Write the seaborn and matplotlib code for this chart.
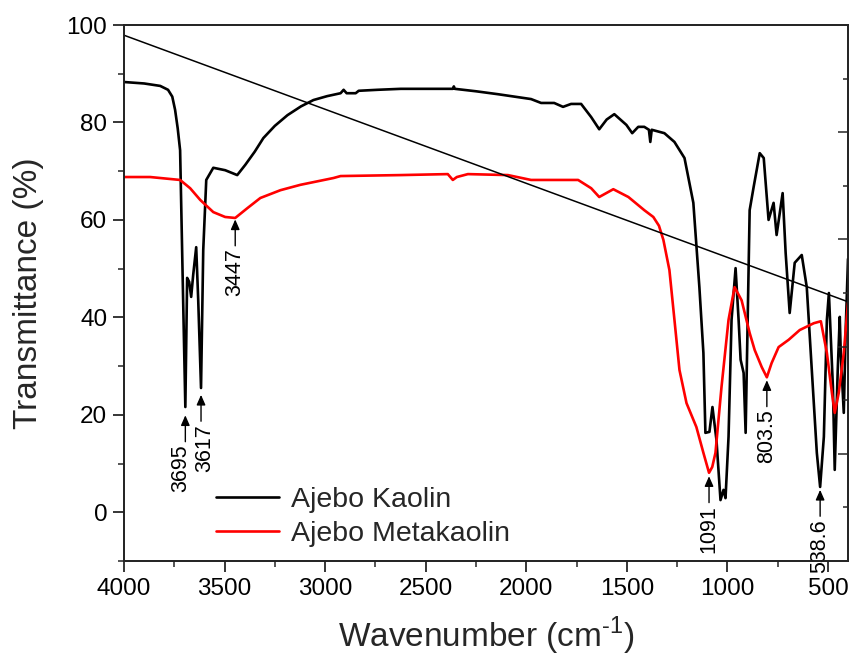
import numpy as np
import pandas as pd
import matplotlib
matplotlib.use("Agg")
import matplotlib.pyplot as plt
from matplotlib.ticker import MultipleLocator
import seaborn as sns

# ---------------- data ----------------
kaolin_wn = [4000, 3900, 3820, 3781, 3760, 3746, 3733, 3721, 3706, 3695, 3686, 3676, 3666,
             3656, 3641, 3631, 3617, 3606, 3591, 3556, 3497, 3437, 3397, 3350, 3307, 3250,
             3187, 3120, 3058, 2990, 2923, 2908, 2893, 2848, 2833, 2740, 2624, 2365, 2360,
             2355, 2250, 2141, 1976, 1926, 1861, 1817, 1777, 1727, 1677, 1637, 1600, 1562,
             1502, 1473, 1443, 1413, 1390, 1383, 1376, 1313, 1263, 1213, 1169, 1139, 1119,
             1109, 1089, 1074, 1054, 1034, 1019, 1009, 994, 979, 959, 944, 934, 919, 909,
             889, 869, 839, 819, 795, 770, 755, 725, 710, 690, 665, 630, 605, 580, 555,
             538.6, 520, 505, 495, 475, 466, 451, 441, 436, 421, 411, 400]
kaolin_T = [88.3, 88.0, 87.5, 86.7, 85.3, 82.6, 78.8, 74.3, 43.6, 21.6, 48.1, 47.3, 44.2,
            48.7, 54.4, 43.6, 25.5, 53.8, 68.2, 70.7, 70.2, 69.2, 71.3, 74.0, 76.8, 79.3,
            81.5, 83.3, 84.6, 85.4, 86.0, 86.7, 86.0, 86.0, 86.5, 86.7, 86.9, 86.9, 87.4,
            86.9, 86.4, 85.8, 84.8, 84.0, 84.0, 83.2, 83.8, 83.8, 81.1, 78.6, 80.6, 81.7,
            79.5, 77.8, 79.1, 79.1, 78.5, 76.0, 78.5, 77.8, 76.0, 72.7, 63.5, 46.2, 32.7,
            16.3, 16.5, 21.6, 14.8, 2.5, 4.6, 2.9, 15.5, 39.5, 50.1, 39.5, 31.3, 28.6, 16.3,
            62.0, 66.8, 73.7, 72.7, 60.0, 63.5, 56.9, 65.5, 53.2, 40.9, 51.2, 52.8, 46.2,
            29.2, 12.2, 5.2, 15.5, 39.5, 45.0, 25.7, 8.7, 29.2, 40.1, 32.7, 20.4, 38.0,
            52.0]

meta_wn = [4000, 3870, 3721, 3671, 3621, 3556, 3497, 3447, 3387, 3322, 3222, 3123, 2958,
           2923, 2624, 2390, 2365, 2345, 2290, 2091, 1976, 1742, 1677, 1637, 1567, 1492,
           1413, 1368, 1340, 1318, 1288, 1263, 1238, 1203, 1154, 1119, 1091, 1075, 1059,
           1029, 994, 964, 929, 889, 864, 829, 803.5, 780, 745, 695, 640, 570, 535, 505,
           480, 466, 446, 421, 400]
meta_T = [68.8, 68.8, 68.2, 66.5, 64.1, 61.6, 60.6, 60.4, 62.4, 64.5, 66.1, 67.2, 68.6,
          69.0, 69.2, 69.4, 68.2, 68.8, 69.4, 69.2, 68.2, 68.2, 66.5, 64.7, 66.3, 64.7,
          62.0, 60.6, 58.8, 55.9, 49.7, 39.5, 29.2, 22.4, 17.5, 12.2, 8.1, 9.3, 12.2,
          25.7, 39.5, 46.2, 43.5, 36.8, 33.3, 29.8, 27.7, 30.6, 33.9, 35.4, 37.4, 38.8,
          39.2, 32.7, 24.5, 20.4, 24.5, 32.7, 43.0]

baseline_wn = [4000, 400]
baseline_T = [97.9, 43.2]

ann_labels = ["3695", "3617", "3447", "1091", "803.5", "538.6"]
ann_wn = [3695, 3617, 3447, 1091, 803.5, 538.6]
ann_T = [19.9, 24.1, 60.1, 7.4, 27.1, 4.6]

series_names = ["Ajebo Kaolin", "Ajebo Metakaolin"]
series_colors = ["#000000", "#ff0000"]

# ---------------- styling ----------------
sns.set_theme(style="ticks")
plt.rcParams["font.family"] = ["Liberation Sans", "DejaVu Sans"]
plt.rcParams["mathtext.fontset"] = "custom"
plt.rcParams["mathtext.rm"] = "Liberation Sans"

fig = plt.figure(figsize=(8.51, 6.57), dpi=100)
ax = fig.add_axes([124 / 851, 1 - 561 / 657, 724 / 851, 536 / 657])

df = pd.concat([
    pd.DataFrame({"wn": kaolin_wn, "T": kaolin_T, "s": series_names[0]}),
    pd.DataFrame({"wn": meta_wn, "T": meta_T, "s": series_names[1]}),
])
sns.lineplot(data=df, x="wn", y="T", hue="s", palette=series_colors,
             estimator=None, sort=True, linewidth=1.9, ax=ax, legend=True)
sns.lineplot(x=baseline_wn, y=baseline_T, color="black", linewidth=1.1,
             estimator=None, ax=ax, legend=False)
for ln in ax.get_lines():
    ln.set_solid_joinstyle("round")

ax.set_xlim(4000, 400)
ax.set_ylim(-10, 100)
ax.xaxis.set_major_locator(MultipleLocator(500))
ax.xaxis.set_minor_locator(MultipleLocator(250))
ax.yaxis.set_major_locator(MultipleLocator(20))
ax.yaxis.set_minor_locator(MultipleLocator(10))
ax.tick_params(axis="both", which="major", direction="out", length=8, width=1.1,
               labelsize=17.5, colors="black", pad=4)
ax.tick_params(axis="both", which="minor", direction="out", length=4, width=1.1)
for sp in ax.spines.values():
    sp.set_linewidth(1.2)
    sp.set_color("black")
    sp.set_visible(True)

ax.set_xlabel(r"Wavenumber (cm$^{\text{-1}}$)", fontsize=24, labelpad=11)
ax.set_ylabel("Transmittance (%)", fontsize=24, labelpad=16)

# right axis ticks (inward, no labels)
ax2 = ax.twinx()
ax2.set_ylim(0, 100)
ax2.yaxis.set_major_locator(MultipleLocator(20))
ax2.yaxis.set_minor_locator(MultipleLocator(10))
ax2.tick_params(axis="y", which="major", direction="in", length=7, width=1.1, labelright=False)
ax2.tick_params(axis="y", which="minor", direction="in", length=3.5, width=1.1)
for sp in ax2.spines.values():
    sp.set_linewidth(1.2)

# annotations (arrow pointing up to the band, label below)
text_shift = {"3695": -3, "3617": 3}
for lab, xw, yt in zip(ann_labels, ann_wn, ann_T):
    ax.annotate("", xy=(xw, yt), xytext=(0, -19), textcoords="offset points",
                arrowprops=dict(arrowstyle="-|>,head_length=0.5,head_width=0.22",
                                color="black", lw=1.0, shrinkA=0, shrinkB=0))
    ax.annotate(lab, xy=(xw, yt), xytext=(text_shift.get(lab, 0), -21),
                textcoords="offset points", rotation=90, ha="center", va="top",
                fontsize=15.5, color="black")

leg = ax.legend(loc="upper left", bbox_to_anchor=(0.112, 0.16), frameon=False,
                fontsize=20.5, handlelength=2.2, handletextpad=0.4, labelspacing=0.3,
                borderaxespad=0)
for line in leg.get_lines():
    line.set_linewidth(1.9)

fig.savefig("out.png", dpi=100)
